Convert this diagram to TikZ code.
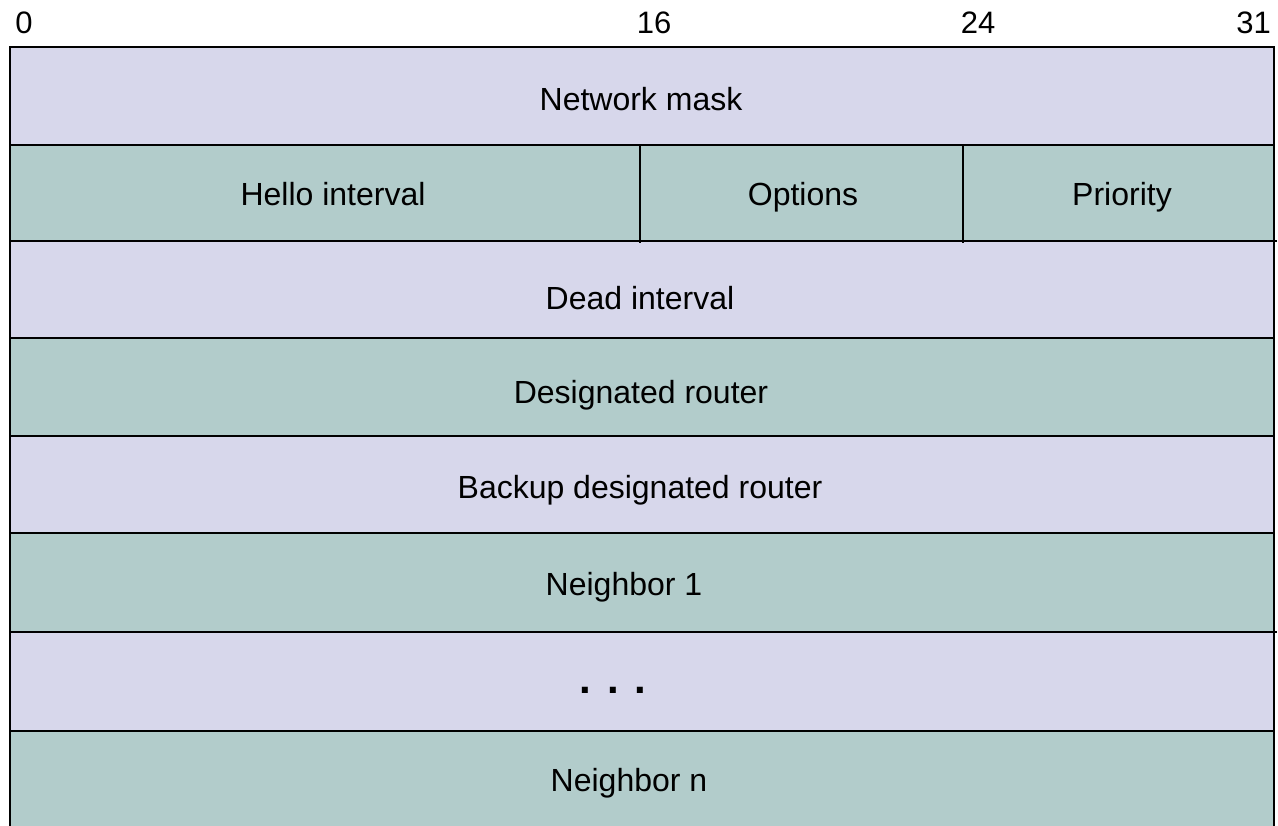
\documentclass[tikz,border=0pt]{standalone}
\usepackage{fontspec}
\setmainfont{Liberation Sans}
\definecolor{lav}{HTML}{D7D7EB}
\definecolor{teal2}{HTML}{B2CCCB}
\begin{document}
\begin{tikzpicture}[x=1pt,y=-1pt,
  lbl/.style={font=\fontsize{32}{38}\selectfont,anchor=base,inner sep=0pt},
  num/.style={font=\fontsize{31}{36}\selectfont,anchor=base,inner sep=0pt},
  edge/.style={line width=2pt,black}]
\useasboundingbox (0,0) rectangle (1278,826);
% fills
\fill[lav] (10,47) rectangle (1274,145);
\fill[teal2] (10,145) rectangle (1274,241);
\fill[lav] (10,241) rectangle (1274,338);
\fill[teal2] (10,338) rectangle (1274,436);
\fill[lav] (10,436) rectangle (1274,533);
\fill[teal2] (10,533) rectangle (1274,632);
\fill[lav] (10,632) rectangle (1274,731);
\fill[teal2] (10,731) rectangle (1274,826);
% labels
\node[lbl] (nm) at (641,111) {Network mask};
\node[lbl] (hi) at (333,206) {Hello interval};
\node[lbl] (op) at (803,206) {Options};
\node[lbl] (pr) at (1122,206) {Priority};
\node[lbl] (di) at (640,310) {Dead interval};
\node[lbl] (dr) at (641,403) {Designated router};
\node[lbl] (bd) at (640,498) {Backup designated router};
\node[lbl] (n1) at (624,595) {Neighbor 1};
\node[font=\fontsize{42}{48}\selectfont\bfseries,anchor=base,inner sep=0pt] (dots) at (613,693) {. . .};
\node[lbl] (nn) at (629,791) {Neighbor n};
% bit numbers
\node[num] (b0) at (24,34) {0};
\node[num] (b16) at (654,34) {16};
\node[num] (b24) at (978,34) {24};
\node[num,anchor=base east] (b31) at (1271,34) {31};
% lines
\draw[edge] (10,826) -- (10,47) -- (1274,47) -- (1274,826);
\draw[edge] (10,145) -- (1274,145);
\draw[edge] (10,241) -- (1277,241);
\draw[edge] (10,338) -- (1274,338);
\draw[edge] (10,436) -- (1274,436);
\draw[edge] (10,533) -- (1274,533);
\draw[edge] (10,632) -- (1277,632);
\draw[edge] (10,731) -- (1274,731);
\draw[edge] (640,145) -- (640,243);
\draw[edge] (963,145) -- (963,243);
\end{tikzpicture}
\end{document}
